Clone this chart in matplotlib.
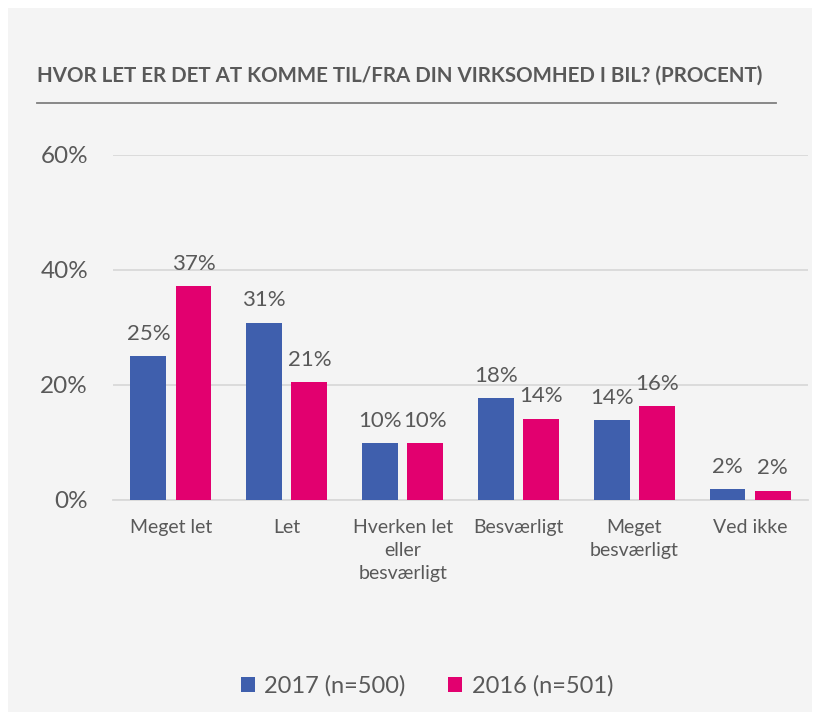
import numpy as np
import matplotlib.pyplot as plt
from matplotlib.patches import Rectangle

# Data
categories = ["Meget let", "Let", "Hverken let\neller\nbesværligt", "Besværligt",
              "Meget\nbesværligt", "Ved ikke"]
vals_2017 = [25.0, 30.8, 9.9, 17.7, 13.9, 1.9]
vals_2016 = [37.2, 20.5, 9.9, 14.1, 16.3, 1.6]
labels_2017 = ["25%", "31%", "10%", "18%", "14%", "2%"]
labels_2016 = ["37%", "21%", "10%", "14%", "16%", "2%"]
series_names = ["2017 (n=500)", "2016 (n=501)"]

blue = "#3F5FAD"
pink = "#E2006F"
txt = "#595959"
bg = "#F4F4F4"

plt.rcParams['font.family'] = ['Lato', 'DejaVu Sans']

fig = plt.figure(figsize=(8.19, 7.2), dpi=100)
fig.patch.set_facecolor("white")
# gray panel
fig.add_artist(Rectangle((8/819, 8/720), 804/819, 704/720, transform=fig.transFigure,
                         facecolor=bg, edgecolor="none", zorder=0))

# Title and rule
fig.text(37/819, 1 - 76/720, "HVOR LET ER DET AT KOMME TIL/FRA DIN VIRKSOMHED I BIL? (PROCENT)",
         fontsize=14.8, fontweight="bold", color=txt, va="center", ha="left")
fig.add_artist(plt.Line2D([37/819, 776/819], [1 - 103/720, 1 - 103/720],
                          transform=fig.transFigure, color="#7F7F7F", lw=1.3))

ax = fig.add_axes([113/819, 1 - 500/720, 695/819, 345/720])
ax.set_facecolor("none")

x = np.arange(len(categories))
w = 0.31
off = 0.195
b1 = ax.bar(x - off, vals_2017, w, color=blue, label=series_names[0], zorder=3)
b2 = ax.bar(x + off, vals_2016, w, color=pink, label=series_names[1], zorder=3)

for rect, lab in zip(b1, labels_2017):
    ax.annotate(lab, (rect.get_x() + rect.get_width()/2, rect.get_height()),
                xytext=(0, 9), textcoords="offset points", ha="center", va="bottom",
                fontsize=16, color=txt)
for rect, lab in zip(b2, labels_2016):
    ax.annotate(lab, (rect.get_x() + rect.get_width()/2, rect.get_height()),
                xytext=(0, 9), textcoords="offset points", ha="center", va="bottom",
                fontsize=16, color=txt)

ax.set_xlim(-0.5, len(categories) - 0.5)
ax.set_ylim(0, 60)
ax.set_yticks([0, 20, 40, 60])
ax.set_yticklabels(["0%", "20%", "40%", "60%"])
ax.yaxis.grid(True, color="#D9D9D9", lw=1.3, zorder=0)
ax.set_axisbelow(True)
ax.set_xticks(x)
ax.set_xticklabels(categories, linespacing=1.4)
ax.tick_params(axis="y", length=0, pad=18, labelsize=17.5, labelcolor=txt)
ax.tick_params(axis="x", length=0, pad=14, labelsize=14, labelcolor=txt)
for s in ["top", "right", "left"]:
    ax.spines[s].set_visible(False)
ax.spines["bottom"].set_color("#D9D9D9")
ax.spines["bottom"].set_linewidth(1.3)

fig.legend(handles=[b1, b2], labels=series_names, loc="center",
           bbox_to_anchor=(427/819, 1 - 686/720), ncol=2, frameon=False,
           fontsize=17, labelcolor=txt, handlelength=0.6, handleheight=0.6,
           handletextpad=0.4, columnspacing=1.8)

fig.savefig("out.png", dpi=100, facecolor=fig.get_facecolor())
